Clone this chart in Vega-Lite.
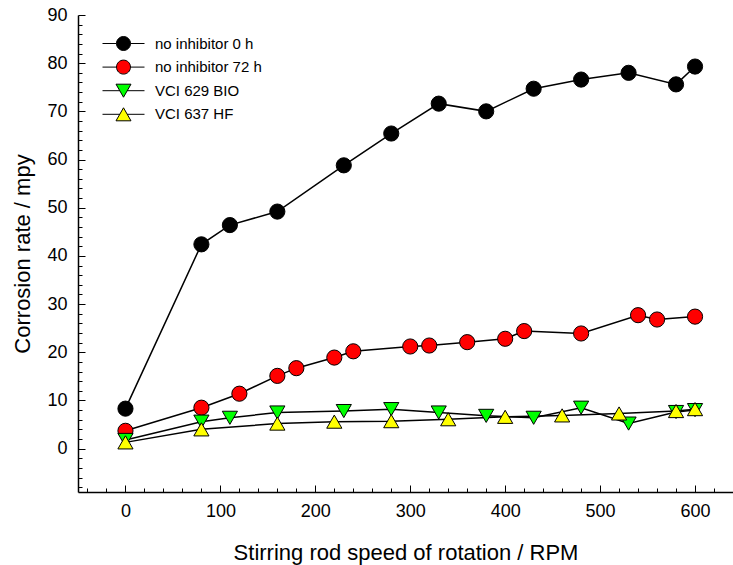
{
  "$schema": "https://vega.github.io/schema/vega-lite/v6.json",
  "width": 655,
  "height": 477,
  "autosize": {"type": "none"},
  "padding": {"left": 78, "top": 15, "right": 0, "bottom": 73},
  "background": "white",
  "config": {
    "view": {"stroke": null},
    "font": "Liberation Sans",
    "axis": {
      "grid": false,
      "domainColor": "black",
      "domainWidth": 1.5,
      "tickColor": "black",
      "tickWidth": 1,
      "labelColor": "black",
      "labelFont": "Liberation Sans",
      "labelFontSize": 18,
      "titleFont": "Liberation Sans",
      "titleFontSize": 22,
      "titleFontWeight": "normal",
      "titleColor": "black",
      "labelOverlap": false,
      "labelFlush": false
    }
  },
  "data": {
    "values": [
      {"series": "no inhibitor 0 h", "rpm": 0, "rate": 8.3},
      {"series": "no inhibitor 0 h", "rpm": 80, "rate": 42.4},
      {"series": "no inhibitor 0 h", "rpm": 110, "rate": 46.4},
      {"series": "no inhibitor 0 h", "rpm": 160, "rate": 49.2},
      {"series": "no inhibitor 0 h", "rpm": 230, "rate": 58.8},
      {"series": "no inhibitor 0 h", "rpm": 280, "rate": 65.4},
      {"series": "no inhibitor 0 h", "rpm": 330, "rate": 71.6},
      {"series": "no inhibitor 0 h", "rpm": 380, "rate": 70.0},
      {"series": "no inhibitor 0 h", "rpm": 430, "rate": 74.7},
      {"series": "no inhibitor 0 h", "rpm": 480, "rate": 76.6},
      {"series": "no inhibitor 0 h", "rpm": 530, "rate": 78.0},
      {"series": "no inhibitor 0 h", "rpm": 580, "rate": 75.6},
      {"series": "no inhibitor 0 h", "rpm": 600, "rate": 79.3},
      {"series": "no inhibitor 72 h", "rpm": 0, "rate": 3.7},
      {"series": "no inhibitor 72 h", "rpm": 80, "rate": 8.5},
      {"series": "no inhibitor 72 h", "rpm": 120, "rate": 11.4},
      {"series": "no inhibitor 72 h", "rpm": 160, "rate": 15.1},
      {"series": "no inhibitor 72 h", "rpm": 180, "rate": 16.7},
      {"series": "no inhibitor 72 h", "rpm": 220, "rate": 18.9},
      {"series": "no inhibitor 72 h", "rpm": 240, "rate": 20.2},
      {"series": "no inhibitor 72 h", "rpm": 300, "rate": 21.2},
      {"series": "no inhibitor 72 h", "rpm": 320, "rate": 21.4},
      {"series": "no inhibitor 72 h", "rpm": 360, "rate": 22.1},
      {"series": "no inhibitor 72 h", "rpm": 400, "rate": 22.8},
      {"series": "no inhibitor 72 h", "rpm": 420, "rate": 24.4},
      {"series": "no inhibitor 72 h", "rpm": 480, "rate": 23.9},
      {"series": "no inhibitor 72 h", "rpm": 540, "rate": 27.7},
      {"series": "no inhibitor 72 h", "rpm": 560, "rate": 26.8},
      {"series": "no inhibitor 72 h", "rpm": 600, "rate": 27.4},
      {"series": "VCI 629 BIO", "rpm": 0, "rate": 1.8},
      {"series": "VCI 629 BIO", "rpm": 80, "rate": 5.6},
      {"series": "VCI 629 BIO", "rpm": 110, "rate": 6.4},
      {"series": "VCI 629 BIO", "rpm": 160, "rate": 7.5},
      {"series": "VCI 629 BIO", "rpm": 230, "rate": 7.8},
      {"series": "VCI 629 BIO", "rpm": 280, "rate": 8.2},
      {"series": "VCI 629 BIO", "rpm": 330, "rate": 7.5},
      {"series": "VCI 629 BIO", "rpm": 380, "rate": 6.8},
      {"series": "VCI 629 BIO", "rpm": 430, "rate": 6.4},
      {"series": "VCI 629 BIO", "rpm": 480, "rate": 8.5},
      {"series": "VCI 629 BIO", "rpm": 530, "rate": 5.2},
      {"series": "VCI 629 BIO", "rpm": 580, "rate": 7.6},
      {"series": "VCI 629 BIO", "rpm": 600, "rate": 8.0},
      {"series": "VCI 637 HF", "rpm": 0, "rate": 1.3},
      {"series": "VCI 637 HF", "rpm": 80, "rate": 4.0},
      {"series": "VCI 637 HF", "rpm": 160, "rate": 5.2},
      {"series": "VCI 637 HF", "rpm": 220, "rate": 5.6},
      {"series": "VCI 637 HF", "rpm": 280, "rate": 5.7},
      {"series": "VCI 637 HF", "rpm": 340, "rate": 6.1},
      {"series": "VCI 637 HF", "rpm": 400, "rate": 6.6},
      {"series": "VCI 637 HF", "rpm": 460, "rate": 6.9},
      {"series": "VCI 637 HF", "rpm": 520, "rate": 7.3},
      {"series": "VCI 637 HF", "rpm": 580, "rate": 7.8},
      {"series": "VCI 637 HF", "rpm": 600, "rate": 8.2}
    ]
  },
  "encoding": {
    "x": {
      "field": "rpm",
      "type": "quantitative",
      "scale": {"domain": [-50, 640], "nice": false, "zero": false},
      "axis": {
        "title": "Stirring rod speed of rotation / RPM",
        "values": [-40, -20, 0, 20, 40, 60, 80, 100, 120, 140, 160, 180, 200, 220, 240, 260, 280, 300, 320, 340, 360, 380, 400, 420, 440, 460, 480, 500, 520, 540, 560, 580, 600, 620],
        "labelExpr": "datum.value % 100 === 0 ? datum.label : ''",
        "tickSize": {"condition": {"test": "datum.value % 100 === 0", "value": -7}, "value": -4},
        "labelPadding": 17,
        "titlePadding": 19
      }
    },
    "y": {
      "field": "rate",
      "type": "quantitative",
      "scale": {"domain": [-9, 90], "nice": false, "zero": false},
      "axis": {
        "title": "Corrosion rate / mpy",
        "values": [-8, -6, -4, -2, 0, 2, 4, 6, 8, 10, 12, 14, 16, 18, 20, 22, 24, 26, 28, 30, 32, 34, 36, 38, 40, 42, 44, 46, 48, 50, 52, 54, 56, 58, 60, 62, 64, 66, 68, 70, 72, 74, 76, 78, 80, 82, 84, 86, 88, 90],
        "labelExpr": "datum.value % 10 === 0 ? datum.label : ''",
        "tickSize": {"condition": {"test": "datum.value % 10 === 0", "value": -7}, "value": -4},
        "labelPadding": 18,
        "titlePadding": 12
      }
    }
  },
  "layer": [
    {
      "mark": {"type": "line", "color": "black", "strokeWidth": 1.5},
      "encoding": {"detail": {"field": "series"}}
    },
    {
      "mark": {"type": "point", "filled": true, "size": 230, "stroke": "black", "strokeWidth": 1, "opacity": 1},
      "encoding": {
        "shape": {
          "field": "series",
          "type": "nominal",
          "scale": {
            "domain": ["VCI 637 HF", "VCI 629 BIO", "no inhibitor 72 h", "no inhibitor 0 h"],
            "range": ["triangle-up", "triangle-down", "circle", "circle"]
          },
          "legend": null
        },
        "fill": {
          "field": "series",
          "type": "nominal",
          "scale": {
            "domain": ["no inhibitor 0 h", "no inhibitor 72 h", "VCI 629 BIO", "VCI 637 HF"],
            "range": ["#000000", "#ff0000", "#00ff00", "#ffff00"]
          },
          "legend": {
            "title": null,
            "orient": "none",
            "legendX": 38,
            "legendY": 21,
            "padding": 0,
            "labelFont": "Liberation Sans",
            "labelFontSize": 15,
            "labelColor": "black",
            "labelOffset": 24,
            "rowPadding": 4.6,
            "symbolSize": 196,
            "symbolStrokeColor": "black",
            "symbolStrokeWidth": 1,
            "symbolOpacity": 1,
            "encode": {
              "symbols": {
                "update": {
                  "shape": {"signal": "datum.value === 'VCI 629 BIO' ? 'M-3,0H-0.53M0.53,0H3M-1.07,-0.93L1.07,-0.93L0,0.93Z' : datum.value === 'VCI 637 HF' ? 'M-3,0H-0.53M0.53,0H3M0,-0.93L1.07,0.93L-1.07,0.93Z' : 'M-3,0H-1M1,0H3M-1,0A1,1,0,1,0,1,0A1,1,0,1,0,-1,0Z'"},
                  "stroke": {"value": "black"},
                  "strokeWidth": {"value": 1}
                }
              }
            }
          }
        }
      }
    }
  ]
}
